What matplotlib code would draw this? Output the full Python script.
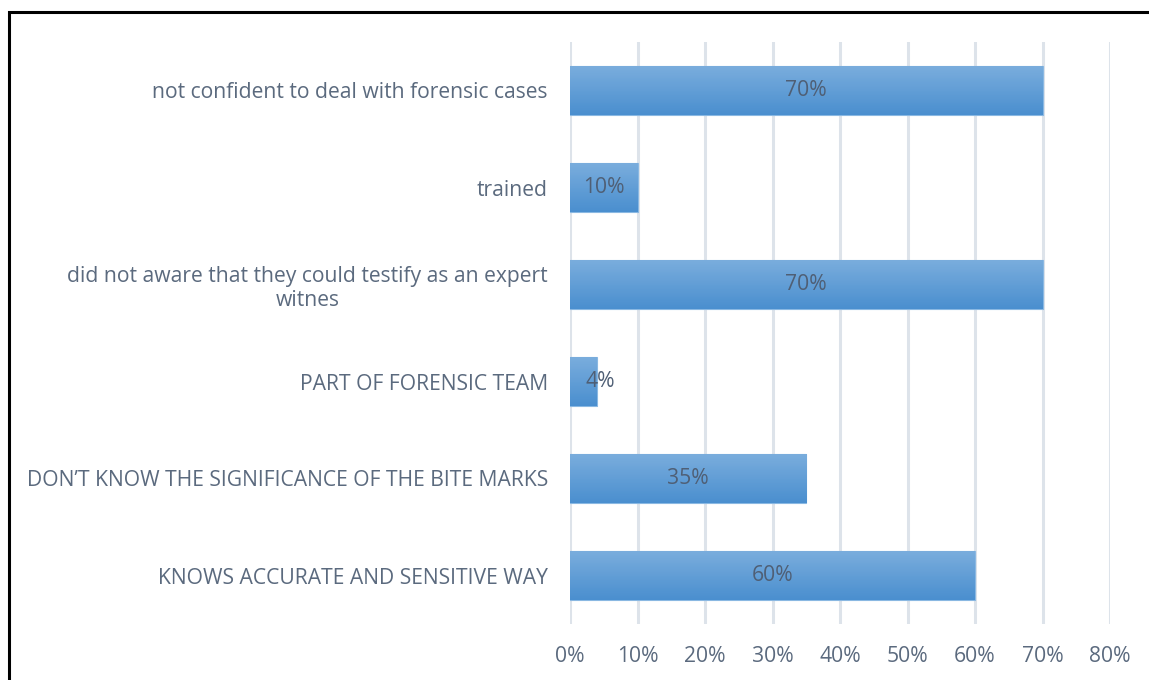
import numpy as np
import matplotlib
matplotlib.use('Agg')
import matplotlib.pyplot as plt
from matplotlib.patches import Rectangle
from matplotlib.colors import LinearSegmentedColormap

categories = [
    'KNOWS ACCURATE AND SENSITIVE WAY',
    'DON\u2019T KNOW THE SIGNIFICANCE OF THE BITE MARKS',
    'PART OF FORENSIC TEAM',
    'did not aware that they could testify as an expert\nwitnes',
    'trained',
    'not confident to deal with forensic cases',
]
values = [60, 35, 4, 70, 10, 70]
xticks = [0, 10, 20, 30, 40, 50, 60, 70, 80]
xtick_labels = ['0%', '10%', '20%', '30%', '40%', '50%', '60%', '70%', '80%']

plt.rcParams['font.family'] = ['Open Sans', 'DejaVu Sans']
text_col = '#5b6a7e'
fs = 15.2

fig = plt.figure(figsize=(11.49, 6.8), dpi=100)
ax = fig.add_axes([570/1149, 1 - 624/680, 540/1149, 582/680])

y = np.arange(len(categories))
bars = ax.barh(y, values, height=0.5, color='#5b9bd5', edgecolor='#8ab8e2', linewidth=0.8, zorder=2)

# vertical gradient inside each bar
cmap = LinearSegmentedColormap.from_list('g', ['#4a8fcf', '#7aaddd'])
grad = np.linspace(0, 1, 64).reshape(-1, 1)
for b in bars:
    x0, y0 = b.get_x(), b.get_y()
    im = ax.imshow(grad, cmap=cmap, aspect='auto', origin='lower', zorder=2.5,
                   extent=[x0, x0 + b.get_width(), y0, y0 + b.get_height()])
    im.set_clip_path(b)

for yi, v in zip(y, values):
    # excel pushes the label of a tiny bar a bit to the right
    ax.text(max(v / 2, 4.5), yi, f'{v}%', ha='center', va='center', fontsize=fs,
            color='#4f5f75', zorder=4)

ax.set_xlim(0, 80)
ax.set_ylim(-0.5, len(categories) - 0.5)
ax.set_xticks(xticks)
ax.set_xticklabels(xtick_labels)
ax.set_yticks(y)
ax.set_yticklabels(categories)
for lab in ax.get_yticklabels():
    lab.set_multialignment('center')
    lab.set_linespacing(1.2)

ax.grid(axis='x', color='#dde3ea', linewidth=2.2, zorder=0)
ax.set_axisbelow(True)
for s in ax.spines.values():
    s.set_visible(False)
ax.tick_params(axis='both', length=0, labelsize=fs, labelcolor=text_col)
ax.tick_params(axis='x', pad=16)
ax.tick_params(axis='y', pad=16)

# black frame around the chart (cropped at right and bottom)
fig.patches.append(Rectangle((8.5/1149, -0.2), 1.5, 1.2 - 12/680 , transform=fig.transFigure,
                             fill=False, edgecolor='black', linewidth=2.2, zorder=10))

fig.savefig('out.png', dpi=100)
